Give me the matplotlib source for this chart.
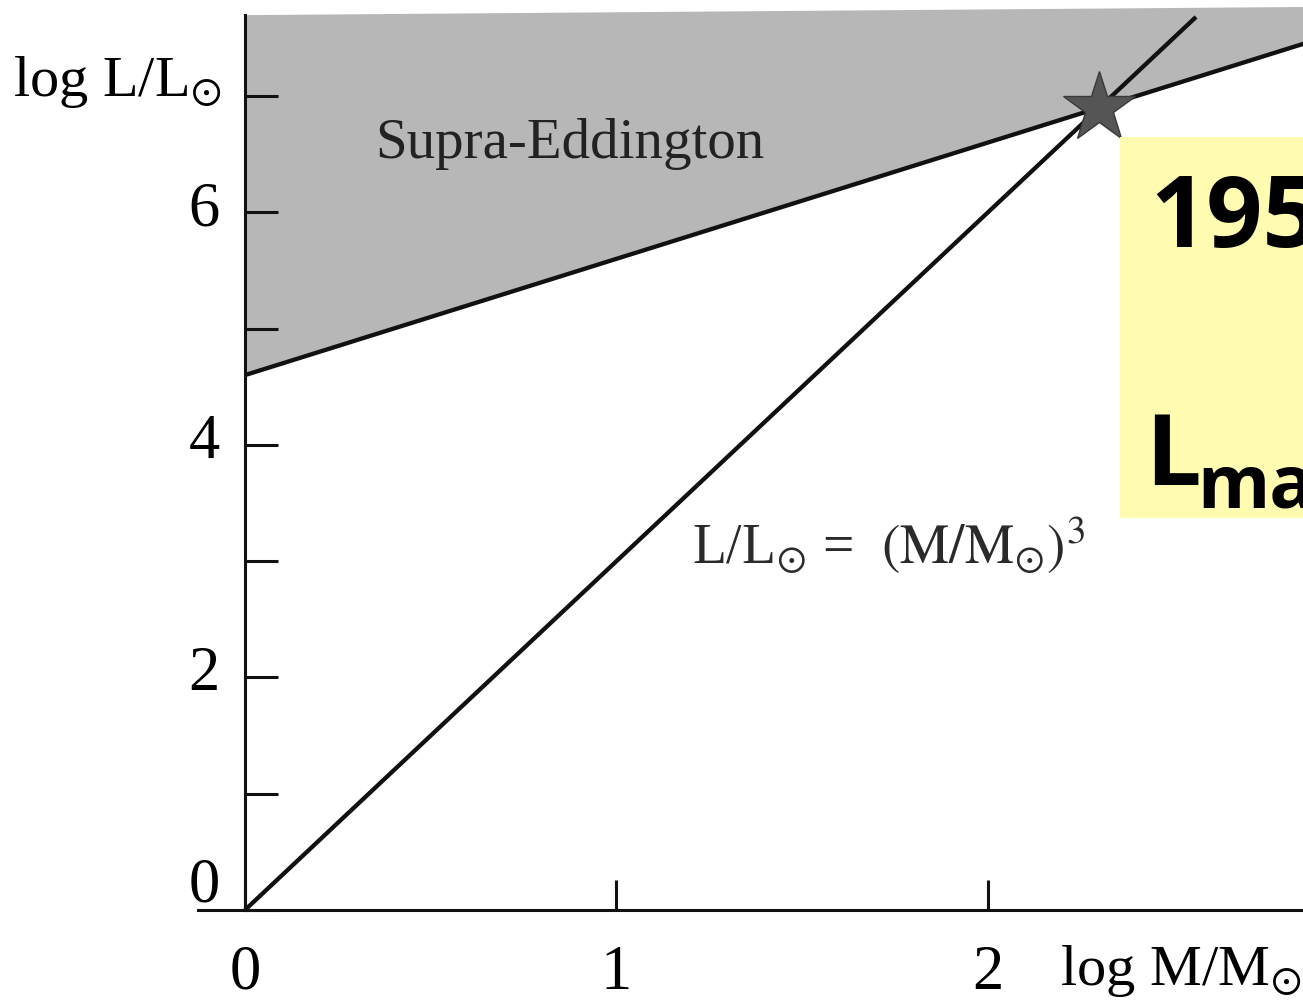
import matplotlib
matplotlib.use('agg')
import matplotlib.pyplot as plt
import matplotlib.transforms as mtransforms
from matplotlib.patches import Rectangle

plt.rcParams['mathtext.fontset'] = 'stix'
plt.rcParams['font.family'] = ['Liberation Serif', 'DejaVu Serif']

# main-sequence mass-luminosity relation (log L = 3 log M)
ms_logm = [0.0, 2.56]
ms_logl = [0.0, 7.68]

# Eddington limit line and the top of the shaded region above it
edd_logm = [0.0, 2.85]
edd_logl = [4.6, 7.45]
top_logl = [7.70, 7.77]

# where the two lines cross
star_logm = 2.3
star_logl = 6.9

y_major = [0, 2, 4, 6]
y_minor = [1, 3, 5, 7]
x_major = [0, 1, 2]

fig = plt.figure(figsize=(13.03, 10), dpi=100)
ax = fig.add_axes([198 / 1303, 0.09, 1105 / 1303, 0.907])
ax.set_xlim(-0.1265, 2.848)
ax.set_ylim(0, 7.80)

ax.fill_between(edd_logm, edd_logl, top_logl, color='#b7b7b7', lw=0, zorder=1)
ax.plot(edd_logm, edd_logl, color='#111111', lw=3.1, solid_capstyle='butt', zorder=2)
ax.plot(ms_logm, ms_logl, color='#111111', lw=3.1, solid_capstyle='butt', zorder=2)
ax.plot(star_logm, star_logl, marker='*', ms=54, color='#555555',
        mec='#3a3a3a', mew=1.0, zorder=3)

for s in ('top', 'right'):
    ax.spines[s].set_visible(False)
ax.spines['left'].set_position(('data', 0))
ax.spines['left'].set_bounds(0, 7.695)
for s in ('left', 'bottom'):
    ax.spines[s].set_linewidth(2.2)
    ax.spines[s].set_color('#111111')
    ax.spines[s].set_zorder(4)

ax.set_yticks(y_major)
ax.set_yticks(y_minor, minor=True)
ax.set_yticklabels([str(v) for v in y_major])
ax.set_xticks(x_major)
ax.set_xticklabels([str(v) for v in x_major])
ax.tick_params(axis='y', which='both', direction='in', length=23.8, width=2.2,
               color='#111111', pad=18, labelsize=45)
ax.tick_params(axis='x', which='both', direction='in', length=21.6, width=2.2,
               color='#111111', pad=25, labelsize=45)

# nudge y labels upward; the zero sits clear of the x axis
for lab, v in zip(ax.get_yticklabels(), y_major):
    dy = 30 if v == 0 else 9
    lab.set_transform(lab.get_transform() +
                      mtransforms.ScaledTranslation(0, dy / 100, fig.dpi_scale_trans))

ax.text(-0.062, 7.0, r'log L/L$_{\odot}$', ha='right', va='baseline', fontsize=42)
ax.text(2.194, -0.645, r'log M/M$_{\odot}$', ha='left', va='baseline', fontsize=42,
        clip_on=False)
ax.text(0.35, 6.466, 'Supra-Eddington', ha='left', va='baseline', fontsize=41,
        color='#222222')
ax.text(1.203, 2.98, r'L/L$_{\odot}$ =  $\left(\mathrm{M/M}_{\odot}\right)^{3}$',
        ha='left', va='baseline', fontsize=40, color='#2a2a2a')

# yellow note box on the right edge
fig.patches.append(Rectangle((1120 / 1303, 1 - 518 / 1000), 0.2, (518 - 137) / 1000,
                             transform=fig.transFigure, facecolor='#fffbb0',
                             edgecolor='none', zorder=5))
fig.text(1150 / 1303, 1 - 247 / 1000, '195', fontsize=71, fontweight='bold',
         family='Open Sans', ha='left', va='baseline', zorder=6)
fig.text(1145 / 1303, 1 - 485 / 1000, 'L', fontsize=71, fontweight='bold',
         family='Open Sans', ha='left', va='baseline', zorder=6)
fig.text(1197 / 1303, 1 - 508 / 1000, 'max', fontsize=53, fontweight='bold',
         family='Open Sans', ha='left', va='baseline', zorder=6)

fig.savefig('out.png', dpi=100)
